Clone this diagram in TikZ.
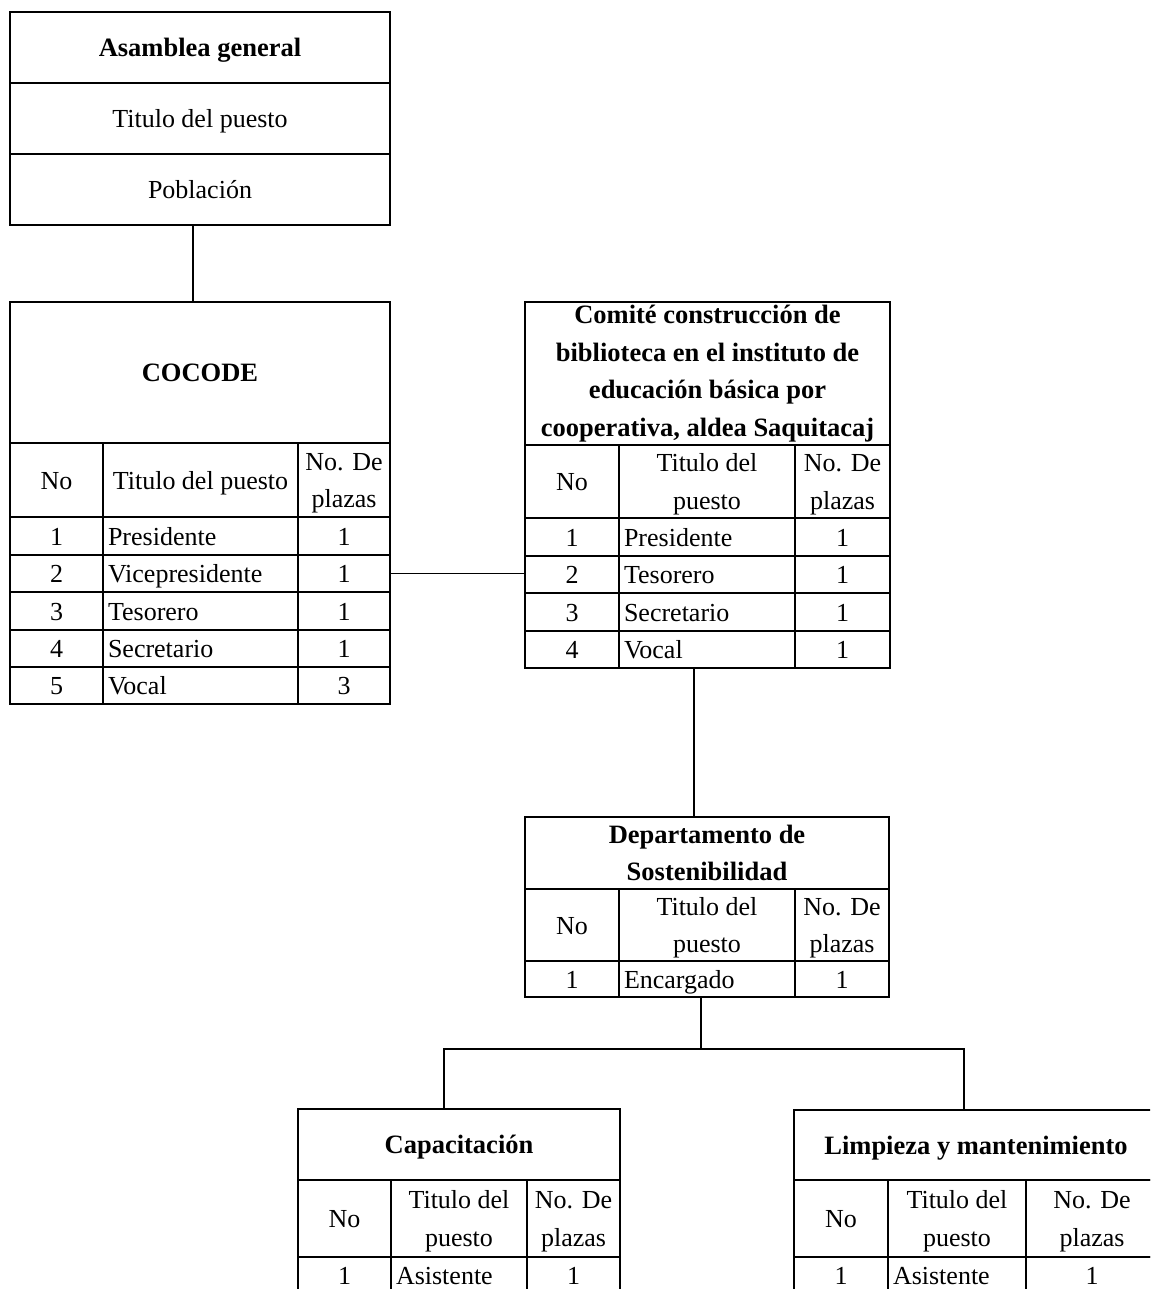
\documentclass[tikz,border=0pt]{standalone}
\usepackage{fontspec}
\setmainfont{Liberation Serif}
\usetikzlibrary{calc}
\tikzset{
  cel/.style={draw, line width=1.6pt, inner sep=0pt, text height=18pt, text depth=0pt},
  ml/.style={text height={}, text depth={}, align=center},
  lft/.style={text width=#1, align=left, inner xsep=5pt},
  ttl/.style={font=\fontsize{26.5}{37.5}\selectfont\bfseries},
  conn/.style={line width=1.3pt},
}
\newcommand\dn{\rule{0pt}{24pt}}
% [options]{name}{x1}{y1}{x2}{y2}{text}
\newcommand\cel[7][]{\node[cel,#1,minimum width={(#5-#3)*1pt},minimum height={(#6-#4)*1pt}] (#2) at ({(#3+#5)/2},{(#4+#6)/2}) {#7};}
\begin{document}
\begin{tikzpicture}[x=1pt,y=-1pt,font=\fontsize{26}{37.5}\selectfont]
\useasboundingbox (0,0) rectangle (1150,1289);
\clip (0,0) rectangle (1150,1289);
\fill[white] (0,0) rectangle (1150,1289);

% Asamblea general
\cel[ttl]{a1}{10}{12}{390}{83}{Asamblea general}
\cel{a2}{10}{83}{390}{154}{Titulo del puesto}
\cel{a3}{10}{154}{390}{225}{Población}

% COCODE
\cel[ttl]{c0}{10}{302}{390}{443}{COCODE}
\cel{ch1}{10}{443}{103}{517}{No}
\cel{ch2}{103}{443}{298}{517}{Titulo del puesto}
\cel[ml]{ch3}{298}{443}{390}{517}{\dn No. De\\plazas}
\foreach \i/\t/\n/\ya/\yb in {1/Presidente/1/517/555,2/Vicepresidente/1/555/592,3/Tesorero/1/592/630,4/Secretario/1/630/667,5/Vocal/3/667/704}{
  \cel{cn\i}{10}{\ya}{103}{\yb}{\i}
  \cel[lft=185pt]{ct\i}{103}{\ya}{298}{\yb}{\t}
  \cel{cp\i}{298}{\ya}{390}{\yb}{\n}
}

% Comite
\cel[ttl,ml]{m0}{525}{302}{890}{445}{Comité construcción de\\biblioteca en el instituto de\\educación básica por\\cooperativa, aldea Saquitacaj}
\cel{mh1}{525}{445}{619}{518}{No}
\cel[ml]{mh2}{619}{445}{795}{518}{\dn Titulo del\\puesto}
\cel[ml]{mh3}{795}{445}{890}{518}{\dn No. De\\plazas}
\foreach \i/\t/\ya/\yb in {1/Presidente/518/556,2/Tesorero/556/593,3/Secretario/593/631,4/Vocal/631/668}{
  \cel{mn\i}{525}{\ya}{619}{\yb}{\i}
  \cel[lft=166pt]{mt\i}{619}{\ya}{795}{\yb}{\t}
  \cel{mp\i}{795}{\ya}{890}{\yb}{1}
}

% Departamento
\cel[ttl,ml]{d0}{525}{817}{889}{889}{Departamento de\\Sostenibilidad}
\cel{dh1}{525}{889}{619}{961}{No}
\cel[ml]{dh2}{619}{889}{795}{961}{\dn Titulo del\\puesto}
\cel[ml]{dh3}{795}{889}{889}{961}{\dn No. De\\plazas}
\cel{dn1}{525}{961}{619}{997}{1}
\cel[lft=166pt]{dt1}{619}{961}{795}{997}{Encargado}
\cel{dp1}{795}{961}{889}{997}{1}

% Capacitacion
\cel[ttl]{p0}{298}{1109}{620}{1180}{Capacitación}
\cel{ph1}{298}{1180}{391}{1257}{No}
\cel[ml]{ph2}{391}{1180}{527}{1257}{\dn Titulo del\\puesto}
\cel[ml]{ph3}{527}{1180}{620}{1257}{\dn No. De\\plazas}
\cel{pn1}{298}{1257}{391}{1293}{1}
\cel[lft=126pt]{pt1}{391}{1257}{527}{1293}{Asistente}
\cel{pp1}{527}{1257}{620}{1293}{1}

% Limpieza
\cel[ttl]{l0}{794}{1110}{1158}{1180}{Limpieza y mantenimiento}
\cel{lh1}{794}{1180}{888}{1257}{No}
\cel[ml]{lh2}{888}{1180}{1026}{1257}{\dn Titulo del\\puesto}
\cel[ml]{lh3}{1026}{1180}{1158}{1257}{\dn No. De\\plazas}
\cel{ln1}{794}{1257}{888}{1293}{1}
\cel[lft=128pt]{lt1}{888}{1257}{1026}{1293}{Asistente}
\cel{lp1}{1026}{1257}{1158}{1293}{1}

% connectors
\draw[conn] ([xshift=-7pt]a3.south) -- ([xshift=-7pt]c0.north);
\draw[conn] (cp2.east) -- (cp2.east -| mn2.west);
\draw[conn] ([xshift=-13pt]mt4.south) -- ([xshift=-13pt]d0.north);
\coordinate (bus) at (0,1049);
\draw[conn] ([xshift=-6pt]dt1.south) -- ([xshift=-6pt]dt1.south |- bus);
\draw[conn] ([xshift=-15pt]p0.north) -- ([xshift=-15pt]p0.north |- bus) -- ([xshift=-12pt]l0.north |- bus) -- ([xshift=-12pt]l0.north);
\end{tikzpicture}
\end{document}
